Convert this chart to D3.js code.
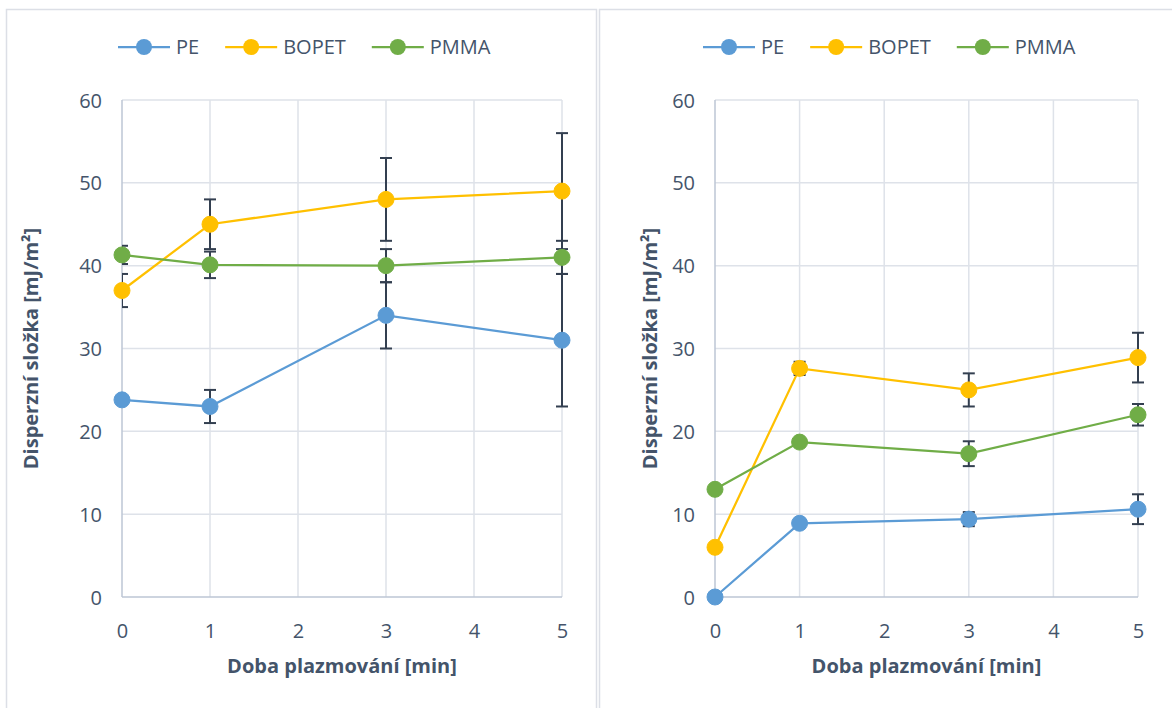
<!DOCTYPE html>
<html>
<head>
<meta charset="utf-8">
<script src="https://cdn.jsdelivr.net/npm/d3@7"></script>
<style>
  html, body { margin: 0; padding: 0; background: #fff; }
  svg { display: block; }
  text { font-family: "Open Sans", "Noto Sans", sans-serif; fill: #44546A; }
</style>
</head>
<body>
<svg id="chart" width="1172" height="708"></svg>
<script>
// ---------- data ----------
const xValues = [0, 1, 3, 5];
const seriesNames = ["PE", "BOPET", "PMMA"];
const seriesColors = ["#5B9BD5", "#FFC000", "#70AD47"];
const xTicks = [0, 1, 2, 3, 4, 5];
const yTicks = [0, 10, 20, 30, 40, 50, 60];
const xTitle = "Doba plazmování [min]";
const yTitle = "Disperzní složka [mJ/m²]";

// left panel
const peLeft = [23.8, 23.0, 34.0, 31.0];
const peLeftErr = [0, 2, 4, 8];
const bopetLeft = [37.0, 45.0, 48.0, 49.0];
const bopetLeftErr = [2, 3, 5, 7];
const pmmaLeft = [41.3, 40.1, 40.0, 41.0];
const pmmaLeftErr = [1.1, 1.6, 2, 2];

// right panel
const peRight = [0, 8.9, 9.4, 10.6];
const peRightErr = [0, 0, 0.85, 1.8];
const bopetRight = [6.0, 27.6, 25.0, 28.9];
const bopetRightErr = [0, 0.8, 2, 3];
const pmmaRight = [13.0, 18.7, 17.3, 22.0];
const pmmaRightErr = [0, 0, 1.5, 1.3];

// ---------- drawing ----------
const svg = d3.select("#chart");
const textColor = "#44546A";
const gridColor = "#DEE2E9";
const axisColor = "#BCC6D5";
const errColor = "#333F50";

// panel frames
svg.append("rect").attr("x", 6.5).attr("y", 9.5).attr("width", 590).attr("height", 710)
  .attr("fill", "none").attr("stroke", "#DCDFE6").attr("stroke-width", 1.5);
svg.append("rect").attr("x", 599.5).attr("y", 9.5).attr("width", 600).attr("height", 710)
  .attr("fill", "none").attr("stroke", "#DCDFE6").attr("stroke-width", 1.5);

function panel(cfg) {
  const g = svg.append("g");
  const x = d3.scaleLinear().domain([0, 5]).range([cfg.x0, cfg.x1]);
  const y = d3.scaleLinear().domain([0, 60]).range([597, 100]);

  // grid
  g.append("g").selectAll("line").data(yTicks.filter(d => d > 0)).join("line")
    .attr("x1", x(0)).attr("x2", x(5)).attr("y1", d => y(d)).attr("y2", d => y(d))
    .attr("stroke", gridColor).attr("stroke-width", 1.5);
  g.append("g").selectAll("line").data(xTicks.filter(d => d > 0)).join("line")
    .attr("x1", d => x(d)).attr("x2", d => x(d)).attr("y1", y(0)).attr("y2", y(60))
    .attr("stroke", gridColor).attr("stroke-width", 1.5);
  // axis lines
  g.append("line").attr("x1", x(0)).attr("x2", x(0)).attr("y1", y(0)).attr("y2", y(60))
    .attr("stroke", axisColor).attr("stroke-width", 1.5);
  g.append("line").attr("x1", x(0)).attr("x2", x(5)).attr("y1", y(0)).attr("y2", y(0))
    .attr("stroke", axisColor).attr("stroke-width", 1.5);

  // tick labels
  const xa = d3.axisBottom(x).tickValues(xTicks).tickSize(0).tickPadding(0).tickFormat(d3.format("d"));
  const xg = g.append("g").attr("transform", `translate(0,${y(0)})`).call(xa);
  xg.select(".domain").remove();
  xg.selectAll("text").attr("y", 34).attr("dy", "0.35em")
    .style("font-size", "20px").style("font-family", "Open Sans").attr("fill", textColor);
  const ya = d3.axisLeft(y).tickValues(yTicks).tickSize(0).tickPadding(0).tickFormat(d3.format("d"));
  const yg = g.append("g").attr("transform", `translate(${x(0)},0)`).call(ya);
  yg.select(".domain").remove();
  yg.selectAll("text").attr("x", -20).attr("dy", "0.35em")
    .style("font-size", "20px").style("font-family", "Open Sans").attr("fill", textColor);

  // titles
  g.append("text").attr("x", (x(0) + x(5)) / 2).attr("y", 666).attr("dy", "0.35em")
    .attr("text-anchor", "middle").style("font-size", "20px").style("font-weight", "bold")
    .text(xTitle);
  g.append("text").attr("transform", `translate(${cfg.yTitleX},${(y(0) + y(60)) / 2}) rotate(-90)`)
    .attr("dy", "0.35em").attr("text-anchor", "middle")
    .style("font-size", "20px").style("font-weight", "bold").text(yTitle);

  // clip for error bars (left edge of plot area only)
  const clipId = "clip" + cfg.id;
  svg.append("clipPath").attr("id", clipId).append("rect")
    .attr("x", x(0)).attr("y", y(60) - 20).attr("width", x(5) - x(0) + 20).attr("height", y(0) - y(60) + 40);

  const series = cfg.series;
  const line = d3.line().x((d, i) => x(xValues[i])).y(d => y(d));
  series.forEach((s, k) => {
    g.append("path").datum(s.values).attr("d", line).attr("fill", "none")
      .attr("stroke", seriesColors[k]).attr("stroke-width", 2.25);
  });
  const eg = g.append("g").attr("clip-path", `url(#${clipId})`);
  series.forEach((s, k) => {
    s.values.forEach((v, i) => {
      const e = s.err[i];
      const cx = x(xValues[i]);
      eg.append("line").attr("x1", cx).attr("x2", cx).attr("y1", y(v - e)).attr("y2", y(v + e))
        .attr("stroke", errColor).attr("stroke-width", 2);
      [v - e, v + e].forEach(t => {
        eg.append("line").attr("x1", cx - 6).attr("x2", cx + 6).attr("y1", y(t)).attr("y2", y(t))
          .attr("stroke", errColor).attr("stroke-width", 2);
      });
    });
  });
  series.forEach((s, k) => {
    g.append("g").selectAll("circle").data(s.values).join("circle")
      .attr("cx", (d, i) => x(xValues[i])).attr("cy", d => y(d)).attr("r", 8)
      .attr("fill", seriesColors[k]).attr("stroke", seriesColors[k]).attr("stroke-width", 1);
  });

  // legend
  const lg = g.append("g").attr("transform", `translate(${cfg.legendX},47)`);
  let cursor = 0;
  seriesNames.forEach((name, k) => {
    lg.append("line").attr("x1", cursor).attr("x2", cursor + 52).attr("y1", 0).attr("y2", 0)
      .attr("stroke", seriesColors[k]).attr("stroke-width", 2.25);
    lg.append("circle").attr("cx", cursor + 26).attr("cy", 0).attr("r", 8).attr("fill", seriesColors[k]);
    const t = lg.append("text").attr("x", cursor + 58).attr("y", 0).attr("dy", "0.35em")
      .style("font-size", "20px").text(name);
    cursor += 58 + t.node().getComputedTextLength() + 26;
  });
}

panel({
  id: "L", x0: 122, x1: 562, yTitleX: 31, legendX: 118,
  series: [
    { values: peLeft, err: peLeftErr },
    { values: bopetLeft, err: bopetLeftErr },
    { values: pmmaLeft, err: pmmaLeftErr }
  ]
});
panel({
  id: "R", x0: 715, x1: 1138, yTitleX: 650, legendX: 703,
  series: [
    { values: peRight, err: peRightErr },
    { values: bopetRight, err: bopetRightErr },
    { values: pmmaRight, err: pmmaRightErr }
  ]
});
</script>
</body>
</html>
